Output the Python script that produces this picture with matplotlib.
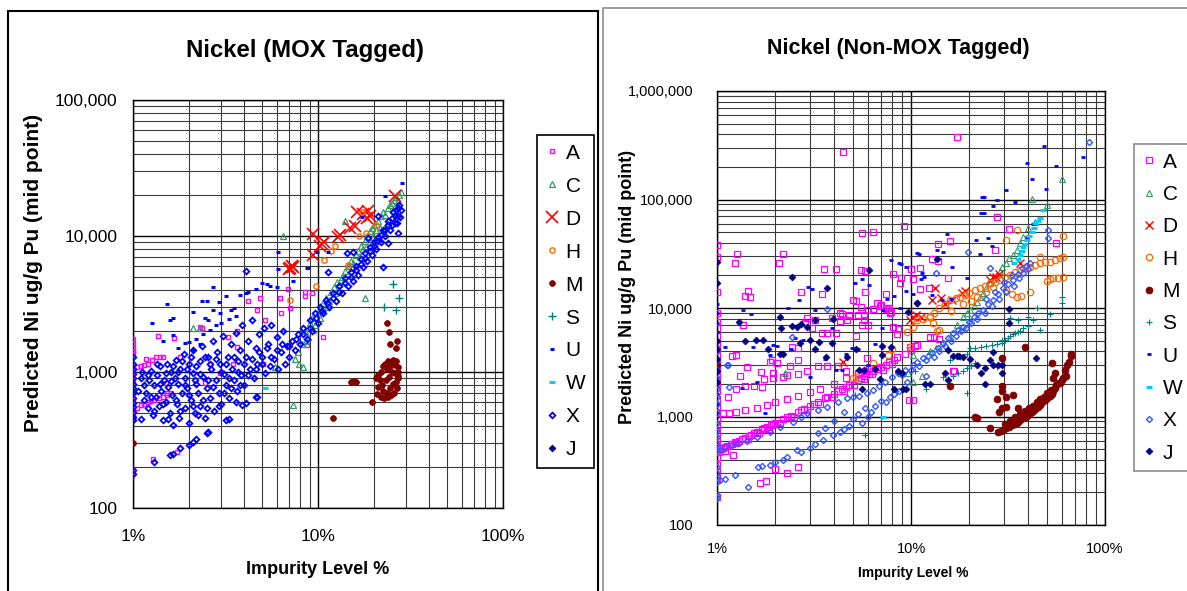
import matplotlib
matplotlib.use('Agg')
import matplotlib.pyplot as plt
from matplotlib.patches import Rectangle
from matplotlib.ticker import FixedLocator, LogLocator, NullFormatter, FuncFormatter

plt.rcParams['font.family'] = ['Liberation Sans', 'DejaVu Sans']

# series letters in legend order
series = ['A', 'C', 'D', 'H', 'M', 'S', 'U', 'W', 'X', 'J']

# ---------------- MOX tagged (impurity %, predicted Ni ug/g Pu) ----------------
mox_A = [(1.0, 1750), (1.0, 1600), (1.0, 1500), (1.0, 1420), (1.0, 1350), (1.0, 1070), (1.0, 1000),
         (1.0, 880), (1.0, 620), (1.0, 520), (1.0, 480), (1.0, 185),
         (1.05, 1080), (1.1, 1100), (1.15, 1120), (1.2, 1150), (1.27, 1220), (1.33, 1280), (1.4, 1300),
         (1.05, 545), (1.1, 570), (1.15, 585), (1.2, 600), (1.25, 615), (1.3, 625), (1.38, 640),
         (1.45, 660), (1.52, 680), (1.6, 700),
         (1.28, 230), (1.73, 260), (1.37, 1850), (1.67, 1770), (2.3, 2160), (2.35, 2100), (3.26, 1800),
         (3.65, 1990), (3.65, 1530), (4.2, 3350), (4.7, 2880), (4.86, 3500), (5.17, 2430), (6.9, 4100),
         (6.2, 3500), (6.3, 2730), (7.06, 2950), (8.5, 3850), (9.3, 3800), (8.5, 3600), (10.6, 1820),
         (8.7, 1590), (5.05, 1150), (3.47, 1150), (2.6, 1150), (2.45, 830), (1.5, 830), (1.53, 700),
         (1.8, 1300), (1.45, 1290), (2.95, 980), (1.17, 1250)]
mox_C = [(8.5, 2000), (9.0, 2300), (9.3, 2500), (9.6, 2200), (10.0, 2700), (10.3, 2900), (10.6, 3200),
         (11.0, 3500), (11.4, 3300), (11.8, 3900), (12.2, 4200), (12.6, 4600), (13.0, 4400), (13.5, 5000),
         (14.0, 5500), (14.5, 6000), (15.0, 6500), (15.5, 6300), (16.0, 7200), (16.5, 7800), (17.0, 8400),
         (17.5, 8000), (18.0, 9200), (18.5, 10000), (19.0, 10800), (19.5, 11500), (20.0, 12000),
         (20.5, 11000), (21.0, 13000), (22.0, 14000), (22.5, 15000), (23.0, 14200), (24.0, 16000),
         (24.5, 17000), (25.0, 17500), (26.0, 18500), (26.5, 19500), (27.0, 18000), (27.5, 20000),
         (28.0, 21000), (27.2, 16500), (25.5, 15500), (23.5, 12500), (21.5, 11500), (19.8, 9800),
         (18.2, 8300), (16.8, 7000), (15.2, 5800), (13.8, 4700), (12.4, 3800), (11.2, 3000), (10.2, 2500),
         (9.4, 2050), (8.8, 1800), (8.2, 1600), (7.8, 1400), (7.5, 1250), (7.9, 1150), (8.6, 1700),
         (2.1, 2100), (2.3, 2100), (6.5, 10000), (14.0, 13000), (17.9, 3500), (8.3, 1090), (7.3, 575),
         (1.18, 850), (5.86, 1090)]
mox_D = [(7.1, 5800), (7.3, 5900), (7.2, 6000), (7.0, 5700), (9.4, 10300), (9.4, 7200), (10.5, 8700),
         (10.8, 9000), (10.2, 8400), (13.1, 10200), (12.9, 9900), (14.9, 11500), (15.8, 11800),
         (16.3, 14900), (17.5, 14500), (18.7, 15200), (18.4, 13600), (19.0, 14000), (26.0, 19600)]
mox_H = [(17.3, 14900), (20.6, 12000), (18.2, 10500), (16.6, 10000), (12.3, 8500), (11.8, 7700),
         (10.8, 6700), (9.7, 4300), (7.1, 3400), (14.6, 6100)]
mox_M = [(1.0, 300), (12.0, 460), (15.0, 850), (15.6, 860), (16.0, 840), (19.6, 600), (23.6, 2300),
         (24.2, 1970), (24.5, 1620), (26.8, 1680), (26.4, 1510), (20.5, 900), (21.0, 950), (21.5, 870),
         (22.0, 1000), (22.5, 1100), (23.0, 1150), (23.5, 1050), (24.0, 1200), (24.5, 1100), (25.0, 1150),
         (25.5, 1220), (26.0, 1130), (26.5, 1200), (27.0, 1000), (27.2, 1080), (26.2, 980), (25.2, 1000),
         (24.2, 920), (23.2, 880), (22.2, 800), (21.2, 780), (22.5, 720), (23.5, 700), (24.5, 760),
         (25.5, 820), (26.5, 850), (27.0, 900), (26.8, 760), (25.8, 700), (24.8, 680), (23.8, 650),
         (22.8, 640), (21.8, 660), (20.8, 690), (27.2, 940)]
mox_S = [(25.3, 4450), (27.4, 3500), (22.7, 3020), (26.4, 2870)]
mox_U = [(6.1, 7600), (6.1, 5700), (8.8, 5800), (7.3, 4680), (11.3, 7600), (28.5, 24600), (23.0, 19600),
         (5.0, 4500), (5.3, 4400), (4.6, 4100), (4.2, 3850), (5.5, 4300), (3.8, 3700), (3.2, 3600),
         (2.7, 4200), (2.35, 3350), (2.5, 3300), (2.9, 3250), (1.53, 3150), (1.64, 2500), (1.58, 2430),
         (1.27, 2300), (2.1, 2750), (2.45, 2500), (2.55, 2430), (2.7, 2880), (3.4, 2880), (3.5, 2950),
         (4.1, 3800), (6.0, 4200), (1.45, 1680), (1.64, 1860), (1.9, 1640), (2.95, 2700), (2.0, 1650),
         (2.2, 1750), (2.4, 1900), (2.6, 2050), (2.8, 2200), (3.0, 2300), (3.3, 2450), (3.6, 2600),
         (9.9, 7600), (8.7, 5800), (17.3, 13900), (1.75, 1500), (2.1, 1450), (2.3, 1600)]
mox_W = [(5.2, 760), (23.5, 11700), (21.5, 11000)]
mox_X = [(1.0, 1300), (1.0, 1150), (1.0, 1050), (1.0, 960), (1.0, 900), (1.0, 820), (1.0, 760),
         (1.0, 700), (1.0, 640), (1.0, 590), (1.0, 550), (1.0, 510), (1.0, 470), (1.0, 440), (1.0, 190),
         (1.0, 178),
         (1.3, 218), (1.58, 246), (1.65, 250), (1.8, 278), (2.0, 290), (2.1, 305), (2.2, 320), (2.5, 357),
         (2.55, 365), (3.2, 445), (3.3, 450), (3.9, 575), (4.1, 590), (4.6, 650), (4.7, 660),
         (1.06, 720), (1.1, 900), (1.12, 1000), (1.15, 620), (1.18, 700), (1.2, 540), (1.22, 880),
         (1.25, 1020), (1.28, 480), (1.3, 800), (1.33, 660), (1.35, 950), (1.38, 560), (1.4, 1100),
         (1.42, 730), (1.45, 440), (1.48, 870), (1.5, 600), (1.52, 1150), (1.55, 780), (1.58, 500),
         (1.6, 1000), (1.62, 680), (1.65, 410), (1.68, 900), (1.7, 1230), (1.72, 580), (1.75, 820),
         (1.78, 460), (1.8, 1050), (1.85, 700), (1.88, 1350), (1.9, 540), (1.92, 900), (1.95, 760),
         (2.0, 420), (2.0, 1150), (2.05, 620), (2.1, 980), (2.12, 1450), (2.15, 500), (2.2, 820),
         (2.25, 700), (2.3, 1200), (2.3, 560), (2.35, 1550), (2.4, 920), (2.45, 460), (2.5, 760),
         (2.55, 1300), (2.6, 640), (2.65, 1050), (2.7, 1700), (2.75, 520), (2.8, 880), (2.85, 1400),
         (2.9, 700), (2.95, 1150), (3.0, 580), (3.05, 1850), (3.1, 960), (3.2, 800), (3.25, 1300),
         (3.3, 640), (3.4, 1600), (3.45, 1050), (3.5, 880), (3.6, 1950), (3.65, 720), (3.7, 1200),
         (3.8, 1450), (3.85, 950), (3.9, 2200), (4.0, 800), (4.1, 1300), (4.2, 1700), (4.3, 1050),
         (4.4, 2400), (4.5, 900), (4.6, 1500), (4.7, 1150), (4.8, 1900), (5.0, 1300), (5.1, 2100),
         (5.2, 980), (5.4, 1600), (5.5, 1100), (5.6, 2200), (5.8, 1250), (6.0, 1800), (6.1, 1050),
         (6.3, 1400), (6.5, 2000), (6.6, 1150), (6.8, 1550), (7.0, 1300), (7.2, 1700), (7.5, 1450),
         (7.8, 1900), (8.0, 1600), (8.3, 2100), (8.7, 1750), (9.0, 2400), (9.3, 2000), (9.6, 2700),
         (10.0, 2300), (10.3, 3000), (10.7, 2700), (11.0, 3400), (11.5, 3000), (12.0, 3800), (12.5, 3300),
         (13.0, 4300), (13.5, 3800), (14.0, 4900), (14.5, 4300), (15.0, 5400), (15.5, 4700), (16.0, 6000),
         (16.5, 5200), (17.0, 6800), (17.5, 5900), (18.0, 7500), (18.5, 6500), (19.0, 8300), (19.5, 7200),
         (20.0, 9000), (20.5, 8000), (21.0, 9800), (22.0, 9000), (22.5, 11000), (23.0, 10000),
         (24.0, 12000), (24.5, 11000), (25.0, 13500), (26.0, 12500), (26.5, 15500), (27.0, 14000),
         (27.5, 17000), (28.0, 15500),
         (4.1, 5500), (11.3, 5400), (22.5, 5950), (21.0, 14100), (25.3, 14900), (27.7, 13900),
         (27.0, 10500), (26.6, 12500), (24.0, 8900), (18.7, 9700), (14.3, 7500), (15.5, 7600),
         (1.1, 450), (1.15, 800), (1.2, 950), (1.25, 660), (1.3, 520), (1.35, 1150), (1.4, 820),
         (1.45, 580), (1.5, 980), (1.55, 450), (1.6, 860), (1.65, 1100), (1.7, 620), (1.75, 1000),
         (1.8, 520), (1.85, 1200), (1.9, 800), (1.95, 1050), (2.0, 680), (2.05, 1300), (2.1, 560),
         (2.15, 880), (2.2, 1100), (2.25, 480), (2.3, 960), (2.4, 620), (2.45, 1300), (2.5, 540),
         (2.55, 880), (2.6, 1150), (2.7, 780), (2.8, 1250), (2.9, 560), (3.0, 1000), (3.1, 700),
         (3.2, 1150), (3.3, 900), (3.4, 760), (3.5, 1300), (3.6, 600), (3.7, 1000), (3.8, 800),
         (4.0, 1150), (4.2, 950), (4.4, 1250), (4.6, 1050), (4.8, 1400), (5.0, 1150), (5.3, 1500),
         (5.6, 1300), (6.0, 1450), (6.4, 1600), (7.0, 1550), (7.6, 1750), (8.3, 1900), (9.0, 2100),
         (9.8, 2500), (10.5, 2800), (11.2, 3200), (12.0, 3500), (13.0, 3900), (14.0, 4500), (15.0, 5000),
         (16.0, 5600), (17.0, 6200), (18.0, 6900), (19.0, 7700), (20.0, 8500), (21.0, 9200),
         (22.0, 10200), (23.0, 11000), (24.0, 12800), (25.0, 12000), (26.0, 14000), (27.0, 16000)]
mox_J = []

# ---------------- Non-MOX tagged ----------------
non_A = [(1.0, 38000), (1.0, 29500), (1.0, 14000), (1.0, 9000), (1.0, 7500), (1.0, 6500), (1.0, 5500),
         (1.0, 4800), (1.0, 4200), (1.0, 3600), (1.0, 3100), (1.0, 2700), (1.0, 2300), (1.0, 2000),
         (1.0, 1700), (1.0, 1450), (1.0, 1250), (1.0, 1080), (1.0, 950), (1.0, 820), (1.0, 700),
         (1.0, 600), (1.0, 520), (1.0, 470), (1.0, 420), (1.0, 360), (1.0, 310), (1.0, 270), (1.0, 180),
         (1.05, 500), (1.1, 520), (1.15, 540), (1.2, 560), (1.3, 600), (1.4, 640), (1.5, 680), (1.6, 720),
         (1.7, 760), (1.8, 800), (1.9, 840), (2.0, 880), (2.2, 950), (2.4, 1020), (2.6, 1100), (2.8, 1180),
         (3.0, 1250), (3.3, 1360), (3.6, 1470), (4.0, 1620), (4.4, 1780), (4.8, 1950), (5.3, 2150),
         (5.8, 2350), (6.4, 2600), (7.0, 2850), (7.7, 3150), (8.5, 3500), (9.3, 3800), (10.0, 4100),
         (1.1, 480), (1.25, 570), (1.45, 620), (1.65, 700), (1.85, 760), (2.1, 870), (2.5, 1000),
         (2.9, 1150), (3.4, 1300), (3.9, 1500), (4.5, 1720), (5.1, 1950), (5.7, 2200), (6.3, 2450),
         (7.2, 2700), (8.0, 3050),
         (1.02, 470), (1.08, 510), (1.12, 530), (1.18, 555), (1.24, 580), (1.35, 620), (1.47, 665),
         (1.55, 700), (1.75, 780), (1.95, 860), (2.3, 985), (2.7, 1140), (3.15, 1300), (3.7, 1510),
         (4.2, 1700), (4.65, 1860), (5.5, 2250), (6.1, 2480), (6.7, 2720), (7.4, 3000), (8.2, 3300),
         (1.07, 1070), (1.15, 1080), (1.25, 1100), (1.4, 1150), (1.6, 1200), (1.8, 1280), (2.0, 1350),
         (2.3, 1450), (2.6, 1550), (3.0, 1680), (3.4, 1790), (4.0, 2000), (4.6, 2250), (5.3, 2500),
         (6.1, 2750),
         (17.3, 375000), (4.45, 272000), (27.8, 69000), (32.0, 53600), (55.8, 39500), (27.0, 34000),
         (9.2, 57000), (5.6, 48600), (6.4, 50000), (13.8, 38800), (15.9, 41500), (12.8, 28500),
         (13.8, 27000), (15.5, 19000), (11.1, 23300), (10.0, 22900), (8.1, 20500), (8.9, 19000),
         (10.2, 18400), (1.27, 31600), (1.24, 26000), (2.2, 31600), (2.09, 26000), (3.56, 22900),
         (4.1, 22900), (5.5, 22500), (5.8, 22000), (1.44, 14200), (1.39, 12900), (1.48, 12600),
         (2.7, 14000), (3.47, 13400), (5.8, 14000), (7.4, 13400), (8.8, 17000), (11.1, 15000),
         (12.4, 15300), (5.0, 11900), (5.2, 11500), (5.5, 10200), (6.0, 9500), (6.4, 9800), (6.9, 10500),
         (7.5, 10000), (7.8, 9000), (5.7, 8700), (5.3, 8700), (4.8, 8600), (4.4, 8800),
         (1.36, 7000), (1.2, 3600), (1.26, 3650), (1.32, 2370), (1.43, 2850), (1.88, 3180), (2.05, 3100),
         (1.69, 2560), (1.95, 2500), (2.38, 2930), (2.6, 3300), (2.84, 7300), (2.9, 8090), (3.1, 6600),
         (3.2, 7700), (3.47, 5900), (3.7, 5900), (3.9, 8090), (4.1, 5900), (4.3, 8900), (4.28, 7600),
         (4.68, 7760), (5.2, 5500), (5.6, 7000), (5.7, 7800), (6.0, 6900), (6.68, 11100), (7.0, 10600),
         (7.4, 9800), (7.7, 10000), (7.9, 9200), (8.1, 6650), (8.5, 5700), (8.6, 6400), (9.9, 4400),
         (10.5, 4500), (10.8, 4600), (12.5, 5400), (13.1, 5400), (13.9, 5200), (16.5, 2620), (16.7, 2650),
         (10.2, 1420), (9.8, 1420), (5.9, 3440), (5.8, 2600), (5.3, 2450), (4.6, 2600), (4.2, 2900),
         (3.7, 2900), (3.3, 2900), (2.9, 2600), (2.6, 2450), (2.3, 2400), (2.2, 2300), (1.95, 2250),
         (1.75, 2200), (1.55, 1900), (1.4, 1900), (1.25, 1800), (1.14, 1500), (1.71, 1890), (1.92, 3320),
         (2.43, 4400), (2.6, 4300),
         (1.21, 440), (2.6, 340), (1.67, 245), (1.78, 255), (2.3, 300), (2.0, 330)]
non_C = [(60.0, 156000), (42.0, 101000), (50.5, 89000), (43.5, 62000), (40.0, 55000), (38.0, 45000),
         (36.5, 40000), (35.0, 34000), (33.5, 31000), (32.0, 29000), (30.8, 26000), (29.6, 23800),
         (28.6, 22000), (27.7, 20000), (26.5, 18500), (25.5, 16900), (24.5, 15300), (23.5, 13700),
         (22.7, 12500), (21.9, 11400), (21.0, 10500), (20.2, 9600), (19.4, 8900), (18.6, 8300),
         (17.2, 7000), (15.9, 5400), (14.5, 4800), (13.5, 4300), (10.2, 2090), (10.2, 3700), (11.4, 2350),
         (2.24, 2500), (9.6, 2500), (12.5, 4000)]
non_D = [(4.45, 3180), (9.9, 7760), (10.2, 8300), (10.6, 8600), (11.2, 8200), (12.9, 11900),
         (13.3, 15300), (14.2, 12400), (15.0, 11000), (16.3, 11900), (18.3, 13700), (19.0, 14200),
         (25.5, 18100), (26.5, 19500), (27.5, 19200), (28.5, 20500), (36.5, 26000)]
non_H = [(5.2, 2330), (5.0, 2250), (9.9, 4400), (10.2, 6700), (12.5, 8300), (14.0, 6300), (13.6, 6200),
         (9.5, 6000), (10.7, 7700), (11.5, 8000), (12.5, 8500), (13.2, 9000), (14.0, 10000), (15.0, 11000),
         (15.9, 11900), (17.0, 12300), (17.9, 12700), (19.0, 13300), (20.0, 13700), (21.3, 14500),
         (22.6, 15300), (24.0, 16000), (25.5, 16900), (27.0, 17500), (28.7, 18100), (30.5, 19200),
         (32.3, 20200), (34.4, 21300), (36.5, 22400), (38.7, 23200), (41.0, 23900), (43.7, 25000),
         (46.5, 26000), (49.0, 26300), (52.0, 26600), (55.0, 27700), (58.7, 28800), (60.9, 29500),
         (31.0, 14600), (33.0, 13500), (35.0, 12700), (37.0, 13000), (41.0, 14000), (50.0, 17700),
         (52.0, 18500), (54.0, 18900), (57.0, 19000), (61.0, 19200), (31.0, 42000), (35.0, 52000),
         (61.0, 46000), (46.0, 29500), (20.5, 11500), (22.0, 12500), (24.5, 14000), (26.5, 15500),
         (8.0, 4200), (7.6, 3700), (6.4, 3100), (13.0, 7300), (16.0, 9400), (18.5, 10800)]
non_M = [(28.0, 720), (29.0, 740), (30.0, 760), (31.0, 780), (32.0, 800), (33.0, 830), (34.0, 850),
         (35.0, 880), (36.0, 900), (37.0, 940), (38.0, 970), (39.0, 1000), (40.0, 1040), (41.0, 1070),
         (42.0, 1100), (43.0, 1150), (44.0, 1190), (45.0, 1230), (46.0, 1280), (47.0, 1330), (48.0, 1380),
         (49.0, 1430), (50.0, 1480), (51.0, 1530), (52.0, 1560), (53.0, 1620), (54.0, 1700),
         (30.5, 850), (32.5, 900), (34.5, 980), (36.5, 1050), (38.5, 1120), (40.5, 1200), (42.5, 1260),
         (44.5, 1350), (46.5, 1450), (48.5, 1520), (50.5, 1650), (52.5, 1750), (55.0, 1850), (56.0, 1950),
         (57.0, 2050), (58.7, 2020), (60.0, 2150), (61.0, 2250), (63.0, 2370), (64.0, 2980), (65.0, 3200),
         (66.8, 3800), (67.0, 3600), (62.0, 2700), (53.0, 3100), (54.0, 2270), (55.5, 2500), (38.6, 4400),
         (21.3, 1000), (22.0, 970), (25.5, 780), (27.7, 1440), (31.0, 1500), (33.6, 1580), (29.6, 1200),
         (30.8, 1230), (35.7, 1200), (28.5, 1100), (15.9, 1910), (29.6, 3450), (29.6, 1900), (29.6, 1700),
         (1.0, 2990)]
non_S = [(5.16, 1580), (5.8, 680), (14.6, 2300), (15.5, 2200), (16.5, 2380), (17.5, 2500), (18.5, 2650),
         (19.4, 2790), (20.5, 2950), (21.5, 3100), (15.9, 3320), (17.9, 3500), (19.4, 3800), (20.2, 4300),
         (21.5, 4300), (23.0, 4400), (24.5, 4500), (26.0, 4600), (27.7, 4700), (29.6, 4760), (30.5, 5100),
         (31.5, 5300), (32.5, 5500), (33.5, 5700), (34.5, 5850), (35.5, 6000), (36.5, 6200), (38.0, 6500),
         (40.0, 6800), (27.7, 2850), (19.4, 1640), (29.6, 5080), (32.3, 8100), (35.7, 7800), (40.0, 8300),
         (42.5, 7760), (44.6, 10000), (46.5, 6300), (52.0, 8800), (60.0, 12700), (60.0, 11100),
         (12.0, 1800), (10.5, 2600), (8.4, 1700)]
non_U = [(77.0, 245000), (48.5, 310000), (39.6, 215000), (56.0, 205000), (42.0, 155000), (49.5, 125000),
         (31.0, 123000), (27.7, 99000), (34.5, 94000), (23.3, 105000), (23.8, 105000), (26.5, 87000),
         (23.0, 75000), (23.8, 75000), (42.5, 59000), (39.6, 45000), (25.0, 44000), (21.7, 42400),
         (26.0, 37000), (22.6, 31600), (15.3, 48000), (13.6, 34000), (14.6, 33000), (16.3, 24000),
         (10.8, 32000), (11.0, 31500), (7.9, 27800), (8.7, 26000), (8.9, 25500), (9.4, 24000),
         (11.4, 21000), (11.6, 19500), (11.2, 18500), (5.16, 17000), (5.6, 18400), (6.07, 16300),
         (2.95, 15600), (3.1, 15000), (2.65, 11900), (2.32, 10000), (1.36, 9500), (1.5, 8800), (3.2, 9500),
         (3.9, 6600), (2.52, 5300), (2.77, 5100), (1.94, 4550), (2.05, 4450), (1.1, 4400), (1.54, 4400),
         (1.88, 3690), (4.97, 4260), (5.3, 4150), (7.1, 6500), (7.2, 9500), (8.8, 10000), (9.4, 14400),
         (10.2, 13600), (12.9, 13100), (14.4, 11900), (16.0, 12000), (7.5, 12000), (8.2, 13000),
         (4.4, 2690), (4.1, 2690), (1.35, 1830), (1.77, 1080), (1.0, 1100), (1.0, 1300), (1.0, 1600),
         (1.0, 1900), (1.0, 2300), (1.0, 2800), (1.0, 3400), (1.0, 4100), (1.0, 5000), (1.0, 6000),
         (1.0, 7200), (1.0, 9000), (1.0, 11000), (3.6, 3400), (4.6, 3800), (6.5, 4700), (6.0, 3000),
         (3.0, 2300), (2.4, 4200), (1.6, 2100), (19.5, 19000)]
non_W = [(47.7, 80000), (46.0, 67000), (45.0, 64000), (43.5, 61000), (42.8, 55000), (42.0, 50000),
         (40.5, 46000), (39.5, 42400), (38.8, 39000), (38.0, 36500), (37.2, 33500), (36.5, 30700),
         (35.5, 28500), (34.0, 26000), (7.2, 1000)]
non_X = [(1.0, 177), (1.0, 190), (1.0, 250), (1.0, 270), (1.0, 300), (1.0, 340), (1.0, 490), (1.0, 560),
         (1.0, 650), (1.0, 750), (1.0, 880), (1.0, 1080), (1.0, 1300), (1.0, 1520), (1.0, 1800),
         (1.0, 2200), (1.0, 2700), (1.0, 3300), (1.0, 4000),
         (1.04, 260), (1.1, 265), (1.24, 290), (1.45, 225), (1.63, 340), (1.7, 350), (1.88, 360),
         (2.0, 380), (2.19, 400), (2.3, 420), (2.58, 490), (2.7, 470), (3.0, 510), (3.2, 560), (3.5, 610),
         (3.96, 680), (4.3, 720), (4.5, 760),
         (1.04, 490), (1.1, 520), (1.2, 550), (1.3, 570), (1.43, 600), (1.6, 650), (1.88, 720), (2.1, 800),
         (2.47, 890), (2.7, 1000), (2.9, 1080), (3.3, 1150), (3.7, 1230), (4.2, 1350), (4.7, 1470),
         (5.0, 1520), (5.4, 1560), (5.9, 1650), (6.35, 1750), (6.8, 1900), (7.35, 2090), (8.0, 2300),
         (8.6, 2500), (9.3, 2700), (10.2, 2980), (10.8, 3200), (11.5, 3450), (12.2, 3600), (12.9, 3830),
         (13.7, 4300), (14.6, 4760), (15.5, 5300), (16.5, 5870), (17.5, 6300), (18.6, 6720), (19.8, 7400),
         (21.0, 8180), (22.2, 8900), (23.5, 9620), (25.0, 10800), (26.4, 11900), (28.0, 13500),
         (29.8, 15300), (31.7, 16700), (33.6, 18100), (35.4, 20600), (37.3, 23300), (39.0, 24500),
         (41.0, 26000),
         (9.0, 2400), (10.0, 2700), (11.0, 2900), (12.0, 3300), (13.2, 3500), (14.0, 4000), (15.0, 4500),
         (16.0, 5000), (17.0, 5500), (18.0, 6100), (19.2, 6500), (20.5, 7200), (22.0, 8000), (24.0, 9000),
         (26.0, 10500), (28.5, 12000), (31.0, 14000), (34.0, 16000), (36.0, 19000), (38.0, 21000),
         (40.0, 23000), (33.0, 20000), (30.0, 17500), (27.0, 14000), (24.5, 12000),
         (4.5, 1100), (5.0, 950), (5.3, 1050), (5.8, 1200), (6.2, 1100), (6.5, 1250), (7.0, 1400),
         (7.4, 1350), (7.8, 1500), (8.2, 1600), (8.7, 1700), (5.6, 880), (6.0, 1000), (4.8, 820),
         (4.0, 900), (3.6, 780), (3.3, 700),
         (19.6, 32600), (13.5, 21000), (3.7, 9800), (2.43, 5400), (51.0, 52000), (51.0, 44000),
         (83.0, 340000), (1.14, 2990), (1.15, 1870), (1.13, 2970), (25.5, 23300), (12.0, 2350), (9.5, 2100)]
non_J = [(1.0, 26500), (2.43, 19200), (3.7, 15300), (6.07, 22500), (13.6, 28500), (10.8, 11100),
         (1.3, 7400), (2.11, 8250), (2.14, 6600), (2.43, 6800), (2.58, 6700), (2.7, 7100), (2.9, 6700),
         (3.2, 7760), (3.96, 7940), (1.39, 4980), (1.59, 5080), (1.73, 5080), (1.84, 4200), (2.11, 3770),
         (2.2, 3770), (2.68, 4800), (3.0, 5080), (3.2, 4200), (3.36, 4900), (3.64, 3560), (3.9, 4800),
         (4.68, 3560), (5.2, 4200), (7.1, 4480), (7.9, 4400), (7.1, 3690), (5.4, 2690), (5.7, 2690),
         (6.5, 2740), (6.9, 2230), (9.6, 9200), (10.7, 11100), (15.0, 2520), (12.5, 2000), (11.8, 2000),
         (8.97, 2520), (8.6, 2600), (16.5, 3600), (17.2, 3600), (17.7, 3600), (24.0, 2000), (26.5, 3930),
         (26.5, 2980), (29.6, 2520), (29.6, 2980), (32.0, 9800), (44.0, 3450), (1.0, 17000), (1.0, 5000),
         (1.0, 4200), (1.0, 3400), (1.0, 2600), (1.0, 2100), (8.2, 1780), (9.1, 1780), (9.4, 1800),
         (5.6, 1800), (23.0, 2500), (28.0, 3000), (25.5, 3300), (15.5, 4100), (20.1, 3400), (21.9, 2990),
         (24.0, 2790), (18.6, 3560), (15.5, 2180), (32.0, 7300)]

mox_data = dict(zip(series, [mox_A, mox_C, mox_D, mox_H, mox_M, mox_S, mox_U, mox_W, mox_X, mox_J]))
non_data = dict(zip(series, [non_A, non_C, non_D, non_H, non_M, non_S, non_U, non_W, non_X, non_J]))

# marker styles: (marker, colour, size, filled, edge width)
mox_style = {'A': ('s', '#FF00FF', 3.4, False, 1.0), 'C': ('^', '#339966', 3.8, False, 0.9),
             'D': ('x', '#FF0000', 8.0, True, 1.2), 'H': ('o', '#FF6600', 3.8, False, 1.0),
             'M': ('o', '#800000', 4.2, True, 0.5), 'S': ('+', '#008080', 5.5, True, 1.0),
             'U': ('_', '#0000FF', 3.5, True, 2.2), 'W': ('_', '#00CCFF', 4.5, True, 2.2),
             'X': ('D', '#0000FF', 2.9, False, 1.3), 'J': ('D', '#000080', 3.5, True, 0.5)}
non_style = {'A': ('s', '#FF00FF', 4.4, False, 0.9), 'C': ('^', '#339966', 4.0, False, 0.8),
             'D': ('x', '#FF0000', 6.0, True, 1.0), 'H': ('o', '#FF6600', 4.6, False, 0.9),
             'M': ('o', '#800000', 5.0, True, 0.5), 'S': ('+', '#008080', 4.5, True, 0.8),
             'U': ('_', '#0000FF', 3.0, True, 2.0), 'W': ('_', '#00CCFF', 4.5, True, 2.2),
             'X': ('D', '#3355FF', 3.1, False, 1.0), 'J': ('D', '#000080', 3.5, True, 0.5)}

W, H = 1187, 591
fig = plt.figure(figsize=(W / 100, H / 100), dpi=100)

# panel borders
fig.add_artist(Rectangle((8 / W, -0.02), 590 / W, (H - 11) / H + 0.02, transform=fig.transFigure,
                         fill=False, edgecolor='black', linewidth=1.5))
fig.add_artist(Rectangle((603 / W, -0.02), 600 / W, (H - 8) / H + 0.02, transform=fig.transFigure,
                         fill=False, edgecolor='#8c8c8c', linewidth=1.2))


def draw_panel(rect, data, style, ymax, title, tpos, tsize, label_size, tick_size, ylab_pos, xlab_pos,
               ypad, xpad, leg_pos, leg_edge, leg_spacing):
    ax = fig.add_axes(rect)
    ax.set_xscale('log')
    ax.set_yscale('log')
    ax.set_xlim(1, 100)
    ax.set_ylim(100, ymax)
    handles = []
    for s in series:
        pts = data[s]
        xs = [p[0] for p in pts]
        ys = [p[1] for p in pts]
        mk, col, ms, filled, mew = style[s]
        ln, = ax.plot(xs, ys, linestyle='none', marker=mk, markersize=ms, color=col,
                      markerfacecolor=col if filled else 'none', markeredgecolor=col,
                      markeredgewidth=mew, label=s, zorder=3)
        handles.append(ln)
    ax.xaxis.set_major_locator(FixedLocator([1, 10, 100]))
    ax.xaxis.set_major_formatter(FuncFormatter(lambda v, p: '%d%%' % round(v)))
    ax.xaxis.set_minor_locator(LogLocator(base=10, subs=range(2, 10)))
    ax.xaxis.set_minor_formatter(NullFormatter())
    ax.yaxis.set_major_locator(LogLocator(base=10, numticks=10))
    ax.yaxis.set_major_formatter(FuncFormatter(lambda v, p: '{:,}'.format(int(round(v)))))
    ax.yaxis.set_minor_locator(LogLocator(base=10, subs=range(2, 10), numticks=20))
    ax.yaxis.set_minor_formatter(NullFormatter())
    ax.grid(True, which='major', color='black', linewidth=1.0, zorder=1)
    ax.grid(True, which='minor', color='#3a3a3a', linewidth=0.8, zorder=1)
    ax.set_axisbelow(True)
    ax.tick_params(which='both', length=0)
    ax.tick_params(axis='y', pad=ypad, labelsize=tick_size)
    ax.tick_params(axis='x', pad=xpad, labelsize=tick_size)
    for sp in ax.spines.values():
        sp.set_color('black')
        sp.set_linewidth(1.0)
    fig.text(tpos[0] / W, 1 - tpos[1] / H, title, ha='center', va='baseline',
             fontsize=tsize, fontweight='bold')
    fig.text(xlab_pos[0] / W, 1 - xlab_pos[1] / H, 'Impurity Level %', ha='center', va='center',
             fontsize=label_size[0], fontweight='bold')
    fig.text(ylab_pos[0] / W, 1 - ylab_pos[1] / H, 'Predicted Ni ug/g Pu (mid point)', ha='center',
             va='center', rotation=90, fontsize=label_size[1], fontweight='bold')
    leg = ax.legend(handles, series, loc='upper left', bbox_to_anchor=(leg_pos[0] / W, 1 - leg_pos[1] / H),
                    bbox_transform=fig.transFigure, borderaxespad=0, fontsize=15, frameon=True,
                    fancybox=False, framealpha=1, edgecolor=leg_edge, handlelength=0.6,
                    handletextpad=0.35, labelspacing=leg_spacing, borderpad=0.42, numpoints=1)
    leg.get_frame().set_linewidth(1.2)
    return ax


draw_panel([133 / W, (H - 508) / H, 370 / W, 408 / H], mox_data, mox_style, 1e5,
           'Nickel (MOX Tagged)', (305, 57), 17.3, (13, 15), 12.5, (34, 273), (318, 570),
           11, 15, (537, 135), 'black', 0.67)
draw_panel([717 / W, (H - 525) / H, 388 / W, 434 / H], non_data, non_style, 1e6,
           'Nickel (Non-MOX Tagged)', (898, 54), 15.5, (10, 13), 10.5, (627, 287), (913, 573),
           17, 12, (1134, 144), '#8c8c8c', 0.64)

fig.savefig('out.png', dpi=100)
